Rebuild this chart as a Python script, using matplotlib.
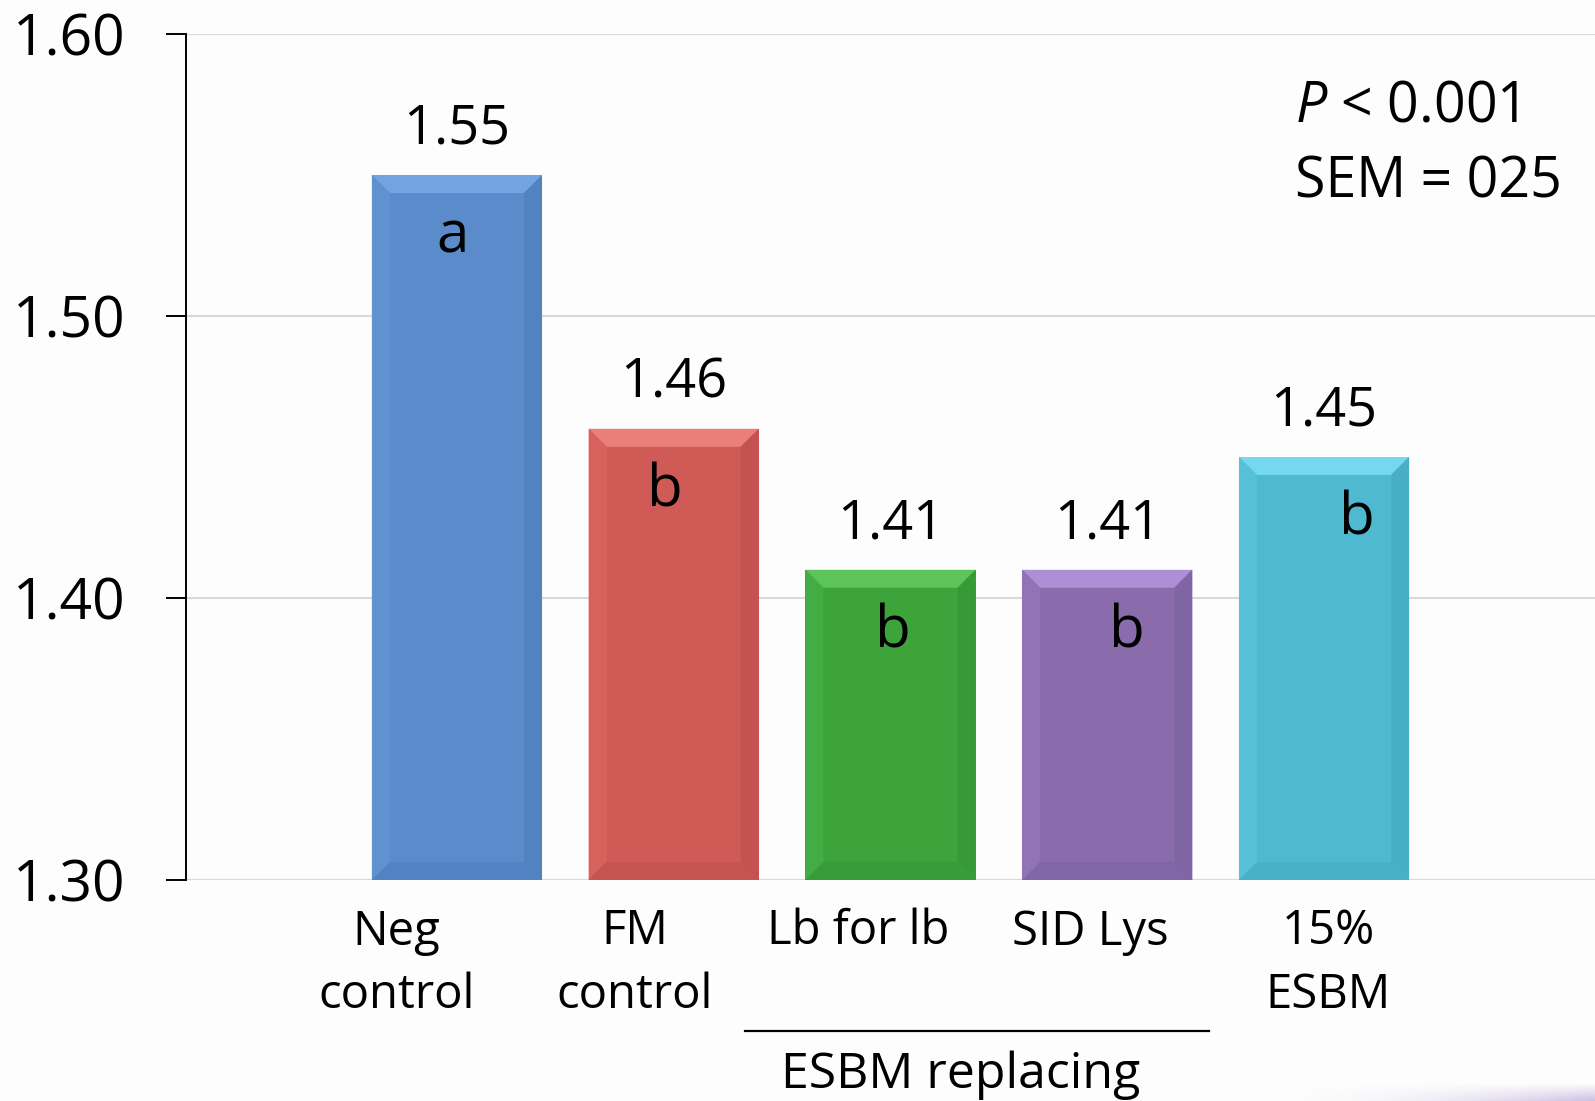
import matplotlib
matplotlib.use("Agg")
import matplotlib.pyplot as plt
import matplotlib.transforms as mtransforms
from matplotlib.patches import Polygon
from matplotlib.lines import Line2D
import numpy as np

# ---- data ----
categories = ["Neg\ncontrol", "FM\ncontrol", "Lb for lb", "SID Lys", "15%\nESBM"]
values = [1.55, 1.46, 1.41, 1.41, 1.45]
value_labels = ["1.55", "1.46", "1.41", "1.41", "1.45"]
letters = ["a", "b", "b", "b", "b"]
yticks = [1.30, 1.40, 1.50, 1.60]
ytick_labels = ["1.30", "1.40", "1.50", "1.60"]
group_label = "ESBM replacing"
stats_line1 = r"$P$ < 0.001"
stats_line2 = "SEM = 025"

# ---- styles ----
base_colors = ["#5A8BCB", "#CF5A56", "#3DA43C", "#8A6CAD", "#4FB9D1"]
top_colors = ["#74A3E2", "#EA7E78", "#5CC459", "#AE8FD6", "#74D8EF"]
left_colors = ["#6092D2", "#D6625D", "#43AC42", "#9274B6", "#56C1D8"]
right_colors = ["#5282C0", "#C4524E", "#379A37", "#8065A3", "#48AEC6"]
bottom_colors = ["#5383C3", "#C5534F", "#389C38", "#8166A5", "#49B0C8"]
label_offsets = [-0.28, -0.18, -0.15, -0.08, 0.02]
letter_offsets = [-0.02, -0.04, 0.01, 0.09, 0.15]

plt.rcParams["font.family"] = ["Open Sans", "DejaVu Sans"]
plt.rcParams["mathtext.fontset"] = "custom"
plt.rcParams["mathtext.rm"] = "Open Sans"
plt.rcParams["mathtext.it"] = "Open Sans:italic"

W, H = 1595, 1101
fig = plt.figure(figsize=(W / 100, H / 100), dpi=100)
fig.patch.set_facecolor("#FDFDFD")

# faint purple gradient along bottom-right edge
gax = fig.add_axes([1250 / W, 0, (W - 1250) / W, 18 / H])
gax.axis("off")
grad = np.zeros((18, 200, 4))
gx = np.linspace(0, 1, 200) ** 2
gy = np.linspace(0, 1, 18)[:, None]
grad[..., 0] = 0.72
grad[..., 1] = 0.66
grad[..., 2] = 0.85
grad[..., 3] = 0.7 * gx[None, :] * (1 - gy)
gax.imshow(grad, aspect="auto", extent=[0, 1, 0, 1], origin="lower")

ax_left, ax_right, ax_top, ax_bot = 186, 1595, 34, 880
ax = fig.add_axes([ax_left / W, 1 - ax_bot / H, (ax_right - ax_left) / W, (ax_bot - ax_top) / H])
ax.set_facecolor("none")

x = np.arange(len(values))
xmin, xmax = -1.25, 5.25
ymin, ymax = 1.30, 1.60
ax.set_xlim(xmin, xmax)
ax.set_ylim(ymin, ymax)

bar_w = 0.785
vals = np.array(values)
bars = ax.bar(x, vals - ymin, bottom=ymin, width=bar_w, color=base_colors,
              edgecolor="none", zorder=3)

# bevel effect
pxx = (ax_right - ax_left) / (xmax - xmin)
pxy = (ax_bot - ax_top) / (ymax - ymin)
bev = 18
dx, dy = bev / pxx, bev / pxy
for i, b in enumerate(bars):
    x0, x1 = b.get_x(), b.get_x() + b.get_width()
    y0, y1 = b.get_y(), b.get_y() + b.get_height()
    polys = [
        ([(x0, y1), (x1, y1), (x1 - dx, y1 - dy), (x0 + dx, y1 - dy)], top_colors[i]),
        ([(x0, y0), (x0, y1), (x0 + dx, y1 - dy), (x0 + dx, y0 + dy)], left_colors[i]),
        ([(x1, y0), (x1, y1), (x1 - dx, y1 - dy), (x1 - dx, y0 + dy)], right_colors[i]),
        ([(x0, y0), (x1, y0), (x1 - dx, y0 + dy), (x0 + dx, y0 + dy)], bottom_colors[i]),
    ]
    for pts, c in polys:
        ax.add_patch(Polygon(pts, closed=True, facecolor=c, edgecolor="none", zorder=4))

# value labels and letters
for i, v in enumerate(values):
    ax.text(x[i], v + 46 / pxy, value_labels[i], ha="center", va="center",
            fontsize=39, color="black", zorder=5)
    ax.text(x[i] + letter_offsets[i], v - 62 / pxy, letters[i], ha="center", va="center",
            fontsize=42, color="black", zorder=5)

# axes style
for s in ["top", "right", "bottom"]:
    ax.spines[s].set_visible(False)
ax.spines["left"].set_color("black")
ax.spines["left"].set_linewidth(1.4)
ax.set_yticks(yticks)
ax.set_yticklabels(ytick_labels)
ax.tick_params(axis="y", length=14.4, width=1.4, pad=29, labelsize=41, colors="black")
ax.set_xticks([])
ax.yaxis.grid(True, color="#D9D9D9", linewidth=1.5, zorder=0)
ax.set_axisbelow(True)
ax.axhline(ymin, color="#D9D9D9", linewidth=2, zorder=1)

# category labels
trans = mtransforms.blended_transform_factory(ax.transData, fig.transFigure)
for i, lab in enumerate(categories):
    ax.text(x[i] + label_offsets[i], 1 - 908 / H, lab, transform=trans,
            ha="center", va="top", fontsize=34, linespacing=1.45, clip_on=False)

# group bracket
ax.add_line(Line2D([1.33, 3.47], [1 - 1031 / H, 1 - 1031 / H], transform=trans,
                   color="black", linewidth=1.6, clip_on=False))
ax.text(2.325, 1 - 1088 / H, group_label, transform=trans, ha="center", va="baseline",
        fontsize=36, clip_on=False)

# stats text
sx = (1295 - ax_left) / pxx + xmin
ax.text(sx, 1 - 122 / H, stats_line1, transform=trans, ha="left", va="baseline", fontsize=40)
ax.text(sx, 1 - 198 / H, stats_line2, transform=trans, ha="left", va="baseline", fontsize=40)

fig.savefig("out.png", dpi=100, facecolor=fig.get_facecolor())
